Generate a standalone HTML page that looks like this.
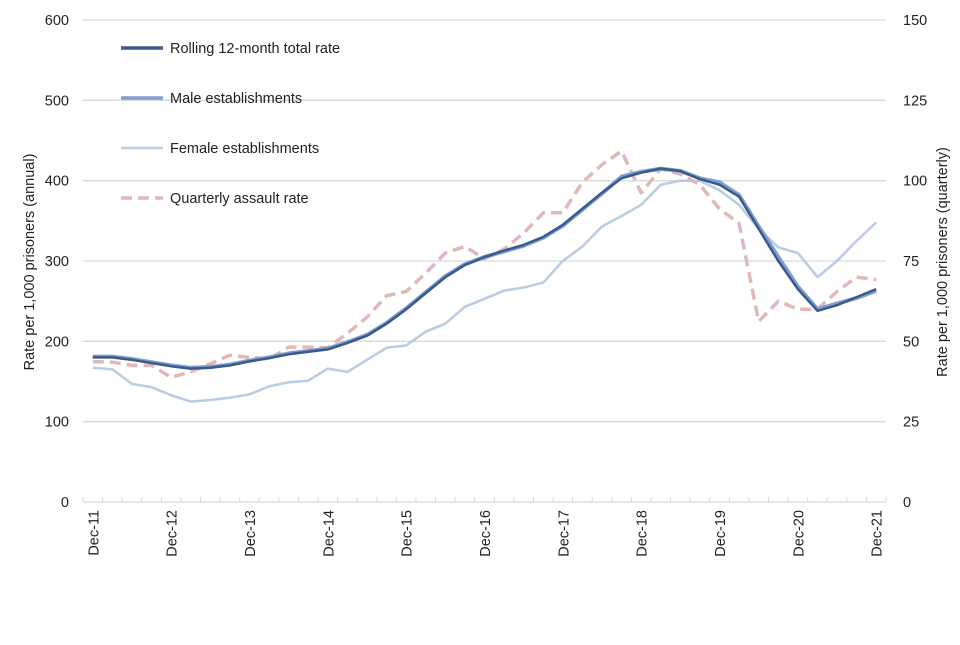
<!DOCTYPE html>
<html><head><meta charset="utf-8"><style>
body{margin:0;background:#fff;font-family:"Liberation Sans",sans-serif;}
svg text{font-family:"Liberation Sans",sans-serif;fill:#222;}
</style></head><body>
<svg id="c" width="960" height="640"></svg>
<script>
const categories=["Dec-11","Mar-12","Jun-12","Sep-12","Dec-12","Mar-13","Jun-13","Sep-13","Dec-13","Mar-14","Jun-14","Sep-14","Dec-14","Mar-15","Jun-15","Sep-15","Dec-15","Mar-16","Jun-16","Sep-16","Dec-16","Mar-17","Jun-17","Sep-17","Dec-17","Mar-18","Jun-18","Sep-18","Dec-18","Mar-19","Jun-19","Sep-19","Dec-19","Mar-20","Jun-20","Sep-20","Dec-20","Mar-21","Jun-21","Sep-21","Dec-21"];
const totalRate=[180,180,177,173,169,166,167,170,175,179,184,187,190,198,207,222,240,260,280,295,305,313,320,330,345,365,385,403,410,415,412,402,395,380,340,300,265,238,245,255,265];
const maleRate=[181,181,178,174,170,167,168,171,176,180,185,188,191,199,208,223,241,261,281,296,305,312,319,329,344,364,384,405,411,415,412,403,398,382,343,305,268,240,247,254,263];
const femaleRate=[167,165,147,143,133,125,127,130,134,144,149,151,166,162,177,192,195,212,222,243,253,263,267,273,300,318,343,356,370,395,400,400,388,370,340,317,310,280,300,325,348];
const quarterlyRate=[43.7,43.5,42.5,42.5,38.8,40.5,43,45.7,45,44.5,48.2,48.2,48,52.5,57.5,64.2,65.5,71.2,77.5,79.5,75.7,78.7,83.7,90,90,99.5,105,109.2,96.2,103.7,102,98.7,91.2,86.7,56.2,62.5,60,60,65.5,70,69.2];
const leftTicks=[0,100,200,300,400,500,600];
const rightTicks=[0,25,50,75,100,125,150];
const xLabels=["Dec-11","Dec-12","Dec-13","Dec-14","Dec-15","Dec-16","Dec-17","Dec-18","Dec-19","Dec-20","Dec-21"];

const NS="http://www.w3.org/2000/svg";
const svg=document.getElementById('c');
const X0=83,X1=886,Y0=502,Y1=20;
const step=(X1-X0)/categories.length;
const x=i=>X0+step*(i+0.5);
const yL=v=>Y0-(v/600)*(Y0-Y1);
const yR=v=>Y0-(v/150)*(Y0-Y1);
function mk(t,a,p){const e=document.createElementNS(NS,t);for(const k in a)e.setAttribute(k,a[k]);(p||svg).appendChild(e);return e;}

leftTicks.forEach((v,i)=>{
  if(v>0){const g=mk('line',{x1:X0,x2:X1,y1:yL(v),y2:yL(v),stroke:'#d9d9d9','stroke-width':1.3});
  
  }
  const t=mk('text',{x:69,y:yL(v)+5,'text-anchor':'end','font-size':14.5});t.textContent=v;
  
  
});
rightTicks.forEach(v=>{
  const t=mk('text',{x:903,y:yR(v)+5,'font-size':14.5});t.textContent=v;
  
  
});
const ax=mk('line',{x1:X0,x2:X1,y1:Y0,y2:Y0,stroke:'#d9d9d9','stroke-width':1.3});


for(let i=0;i<=categories.length;i++){
  const tk=mk('line',{x1:X0+step*i,x2:X0+step*i,y1:Y0,y2:Y0-5,stroke:'#d9d9d9','stroke-width':1});
  
  
}
categories.forEach((c,i)=>{
  if(xLabels.indexOf(c)<0)return;
  const t=mk('text',{x:0,y:0,'font-size':14.5,'text-anchor':'end',transform:`translate(${x(i)+5.5},510) rotate(-90)`});t.textContent=c;
  
  
});
let t=mk('text',{'font-size':14.5,'text-anchor':'middle',transform:'translate(34,262) rotate(-90)'});t.textContent='Rate per 1,000 prisoners (annual)';


t=mk('text',{'font-size':14.5,'text-anchor':'middle',transform:'translate(947,262) rotate(-90)'});t.textContent='Rate per 1,000 prisoners (quarterly)';



function line(vals,yf,st,name){
  const d=vals.map((v,i)=>(i?'L':'M')+x(i).toFixed(1)+','+yf(v).toFixed(1)).join('');
  const p=mk('path',Object.assign({d:d,fill:'none','stroke-linejoin':'round'},st));
  
  
}
line(femaleRate,yL,{stroke:'#b8cce4','stroke-width':2.5},'female-series');
line(quarterlyRate,yR,{stroke:'#e0b8b8','stroke-width':3.5,'stroke-dasharray':'11,6'},'quarterly-series');
line(maleRate,yL,{stroke:'#7f9fcf','stroke-width':4},'male-series');
line(totalRate,yL,{stroke:'#3a5a8c','stroke-width':2.5},'total-series');

const leg=[["Rolling 12-month total rate",{stroke:'#3a5a8c','stroke-width':3.5}],["Male establishments",{stroke:'#7f9fcf','stroke-width':3.5}],["Female establishments",{stroke:'#b8cce4','stroke-width':2.5}],["Quarterly assault rate",{stroke:'#e0b8b8','stroke-width':3.5,'stroke-dasharray':'11,6'}]];
leg.forEach((l,i)=>{
  const yy=48+i*50;
  const g=mk('g',{});
  
  
  mk('line',Object.assign({x1:121,x2:163,y1:yy,y2:yy},l[1]),g);
  const tx=mk('text',{x:170,y:yy+5,'font-size':14.5},g);tx.textContent=l[0];
});
</script>
</body></html>
